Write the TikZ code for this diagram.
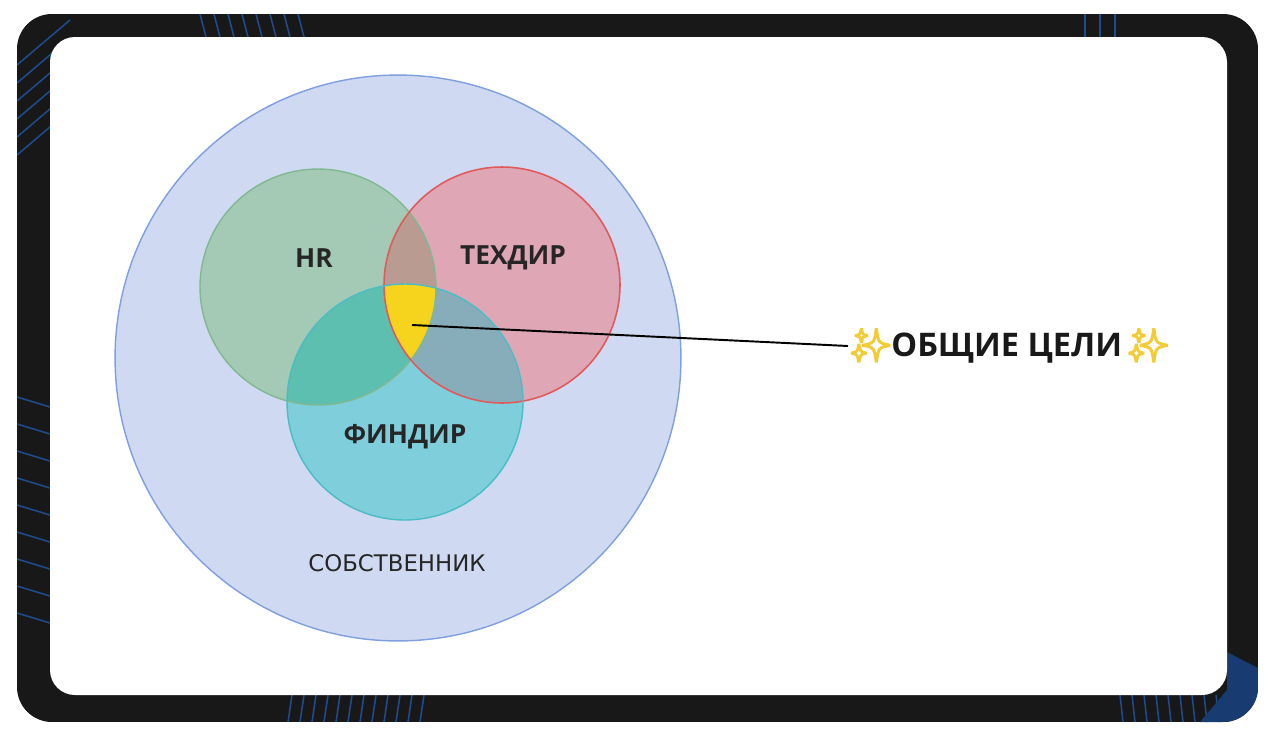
\documentclass[tikz,border=0pt]{standalone}
\usepackage{fontspec}
\usepackage{xcolor}
\setmainfont{Open Sans}
\setsansfont{DejaVu Sans}
\newfontfamily\emojifont[FakeBold=5]{Noto Emoji}

\definecolor{framecol}{HTML}{181818}
\definecolor{streakcol}{HTML}{1E4A8E}
\definecolor{ownerfill}{HTML}{CFDAF2}
\definecolor{ownerline}{HTML}{7F9FE0}
\definecolor{hrfill}{HTML}{A4C9B4}
\definecolor{hrline}{HTML}{80B892}
\definecolor{techfill}{HTML}{DFA6B6}
\definecolor{techline}{HTML}{E05A5C}
\definecolor{finfill}{HTML}{7ECEDC}
\definecolor{finline}{HTML}{4CBCC4}
\definecolor{hrtech}{HTML}{B99B92}
\definecolor{hrfin}{HTML}{5CBFB0}
\definecolor{techfin}{HTML}{87ADBA}
\definecolor{goalfill}{HTML}{F6D41E}
\definecolor{sparkcol}{HTML}{F3CC35}

\tikzset{
  streak/.style={streakcol, line width=0.9pt},
  circtext/.style={font=\bfseries\fontsize{15}{18}\selectfont, text=black!85},
  ownertext/.style={font=\sffamily\fontsize{13}{15}\selectfont, text=black!85},
  goaltext/.style={font=\bfseries\fontsize{18.5}{22}\selectfont, text=black!90, anchor=west, inner sep=1pt}
}
\newcommand{\sparkle}{{\emojifont\color{sparkcol}✨}}

\begin{document}
\begin{tikzpicture}[x=0.02cm,y=-0.02cm]
\useasboundingbox (0,0) rectangle (1280,730);
% frame
\begin{scope}
\clip[rounded corners=0.7cm] (17,14) rectangle (1258,722);
\fill[framecol] (17,14) rectangle (1258,722);
\foreach \y in {405,432,...,640} {\draw[streak] (17,\y-8) -- (50,\y+2);}
\foreach \y in {40,58,...,130} {\draw[streak] (17,\y+25) -- (70,\y-20);}
\foreach \x in {200,214,...,300} {\draw[streak] (\x,14) -- (\x+6,37);}
\foreach \x in {1085,1100,1115} {\draw[streak] (\x,14) -- (\x,37);}
\foreach \x in {292,304,...,425} {\draw[streak] (\x,695) -- (\x-4,722);}
\foreach \x in {1120,1132,...,1260} {\draw[streak] (\x,695) -- (\x+3,722);}
\fill[streakcol!80!black] (1227,652) -- (1258,668) -- (1258,722) -- (1200,722) -- (1227,690) -- cycle;
\end{scope}
\fill[white, rounded corners=0.5cm] (50,37) rectangle (1227,695);

\coordinate (own) at (398,358);
\coordinate (hr) at (318,287);
\coordinate (tech) at (502,285);
\coordinate (fin) at (405,402);
\def\rs{2.36cm}

% areas
\fill[ownerfill] (own) circle[radius=5.66cm];
\fill[hrfill] (hr) circle[radius=\rs];
\fill[techfill] (tech) circle[radius=\rs];
\fill[finfill] (fin) circle[radius=\rs];
\begin{scope}
\clip (hr) circle[radius=\rs];
\fill[hrtech] (tech) circle[radius=\rs];
\fill[hrfin] (fin) circle[radius=\rs];
\end{scope}
\begin{scope}
\clip (tech) circle[radius=\rs];
\fill[techfin] (fin) circle[radius=\rs];
\clip (hr) circle[radius=\rs];
\fill[goalfill] (fin) circle[radius=\rs];
\end{scope}

% outlines
\draw[ownerline, line width=0.8pt] (own) circle[radius=5.66cm];
\draw[hrline, line width=0.8pt] (hr) circle[radius=\rs];
\draw[techline, line width=0.9pt] (tech) circle[radius=\rs];
\draw[finline, line width=0.8pt] (fin) circle[radius=\rs];

\node[circtext] (hrlab) at (314,258) {HR};
\node[circtext] (techlab) at (513,258) {ТЕХДИР};
\node[circtext] (finlab) at (405,437) {ФИНДИР};
\node[ownertext] (ownlab) at (397,563) {СОБСТВЕННИК};

\coordinate (aim) at (412,325);
\node[goaltext] (goal) at (848,346) {\sparkle ОБЩИЕ ЦЕЛИ\,\sparkle};
\draw[black, line width=1.1pt] (aim) -- (goal.west);
\end{tikzpicture}
\end{document}
